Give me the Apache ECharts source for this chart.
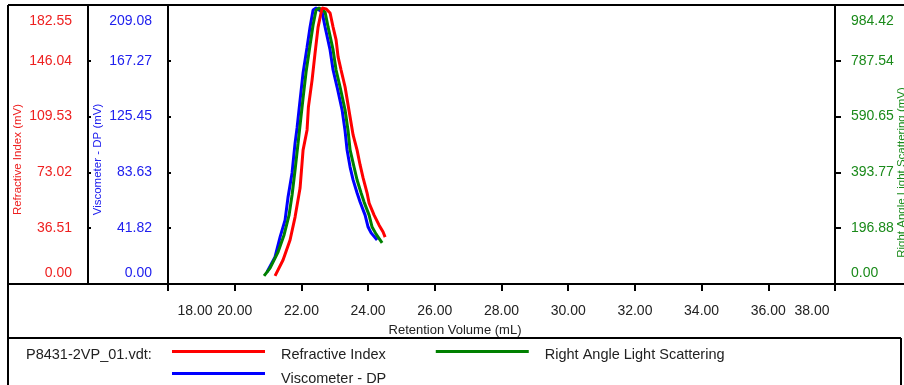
<!DOCTYPE html>
<html>
<head>
<meta charset="utf-8">
<script src="https://cdn.jsdelivr.net/npm/echarts@6/dist/echarts.min.js"></script>
<style>
html,body{margin:0;padding:0;background:#fff;}
#chart{width:904px;height:385px;}
</style>
</head>
<body>
<div id="chart"></div>
<script>
// ---- data (retention volume mL, detector response) ----
const refractiveIndex = [
  [21.21,5.3],[21.45,15.7],[21.66,28.8],[21.81,43.8],[21.96,62.8],[22.05,87.6],
  [22.17,100.8],[22.21,115.8],[22.32,133.4],[22.41,151.2],[22.50,168.1],[22.62,180.6],
  [22.74,180.0],[22.86,177.3],[22.95,168.1],[23.04,159.7],[23.10,148.6],[23.19,140.0],
  [23.31,128.9],[23.46,109.3],[23.55,97.5],[23.67,87.6],[23.76,77.9],[23.85,69.4],
  [23.97,59.5],[24.03,52.9],[24.18,45.1],[24.33,38.5],[24.45,34.0],[24.51,30.7]
];
const viscometerDP = [
  [20.97,9.0],[21.21,20.3],[21.36,35.1],[21.51,47.9],[21.60,65.2],[21.72,83.2],
  [21.81,105.6],[21.87,116.9],[21.96,137.8],[22.05,158.1],[22.17,177.5],[22.26,192.6],
  [22.35,205.3],[22.44,206.8],[22.62,203.9],[22.71,192.6],[22.86,175.4],[22.95,160.4],
  [23.07,147.6],[23.22,130.5],[23.31,114.6],[23.37,100.4],[23.46,87.6],[23.55,78.0],
  [23.67,68.2],[23.76,61.5],[23.91,51.6],[24.00,42.7],[24.09,38.3],[24.27,33.0]
];
const lightScattering = [
  [20.88,28.5],[21.06,56],[21.30,113],[21.48,173],[21.63,243],[21.72,314],
  [21.81,402],[21.90,497],[21.96,561],[22.05,656],[22.14,748],[22.26,843],
  [22.35,914],[22.44,967],[22.53,974],[22.71,960],[22.80,907],[22.95,826],
  [23.04,755],[23.16,695],[23.31,614],[23.40,540],[23.46,473],[23.58,412],
  [23.67,367],[23.79,321],[23.88,289],[24.03,243],[24.12,201],[24.24,176],[24.42,145]
];
const xRange = {min: 18, max: 38, step: 2};
const riRange = {max: 182.55, step: 36.51};
const dpRange = {max: 209.08, step: 41.816};
const lsRange = {max: 984.42, step: 196.884};
const riTickLabels = ['0.00', '36.51', '73.02', '109.53', '146.04', '182.55'];
const dpTickLabels = ['0.00', '41.82', '83.63', '125.45', '167.27', '209.08'];
const lsTickLabels = ['0.00', '196.88', '393.77', '590.65', '787.54', '984.42'];
const fileLabel = 'P8431-2VP_01.vdt:';

const RED = '#ff0000', BLUE = '#0000ff', GREEN = '#008000';
const RED_T = '#ee2020', BLUE_T = '#2020ee', GREEN_T = '#1a8a1a';
const FONT = 'Liberation Sans, Arial, sans-serif';

function yLabel(labels, color) {
  const last = labels.length - 1;
  return {
    color: color, fontSize: 14, fontFamily: FONT, margin: 16,
    formatter: function (v, idx) {
      const s = labels[idx] !== undefined ? labels[idx] : v.toFixed(2);
      if (idx === last) return '{t|' + s + '}';
      if (idx === 0) return '{b|' + s + '}';
      return s;
    },
    rich: {
      t: {color: color, fontSize: 14, fontFamily: FONT, padding: [32, 0, 0, 0]},
      b: {color: color, fontSize: 14, fontFamily: FONT, padding: [0, 0, 22, 0]}
    }
  };
}

function yAxis(opts) {
  return {
    type: 'value', position: opts.position, offset: opts.offset,
    min: 0, max: opts.range.max, interval: opts.range.step,
    name: opts.name, nameLocation: 'middle', nameGap: opts.gap, nameRotate: 90,
    nameMoveOverlap: false,
    nameTextStyle: {color: opts.tcolor, fontSize: 11.5, fontFamily: FONT, padding: opts.namePad},
    axisLine: {show: true, lineStyle: {color: '#000', width: 2}},
    axisTick: {show: true, inside: opts.tickInside, length: opts.tickLen, lineStyle: {color: '#000', width: 2}},
    axisLabel: yLabel(opts.labels, opts.tcolor),
    splitLine: {show: false}
  };
}

function legendText(padTop) {
  return {
    fontSize: 14.5, color: '#222', fontFamily: FONT, padding: [padTop, 0, 0, 11],
    rich: {a: {fontSize: 14.5, color: '#222', fontFamily: FONT}}
  };
}
const legendFormatter = function (name) { return '{a|' + name + '}'; };

const chart = echarts.init(document.getElementById('chart'), null, {renderer: 'canvas'});
chart.setOption({
  animation: false,
  backgroundColor: '#fff',
  grid: {left: 168, right: 69, top: 5, bottom: 101, containLabel: false, outerBoundsMode: 'none'},
  title: {text: fileLabel, left: 26, top: 347, padding: 0,
          textStyle: {fontSize: 14.5, fontWeight: 'normal', color: '#222', fontFamily: FONT}},
  legend: [
    {data: ['Refractive Index', 'Right Angle Light Scattering'], left: 172, top: 347, padding: 0, icon: 'rect',
     itemWidth: 93, itemHeight: 3, itemGap: 50, selectedMode: false,
     formatter: legendFormatter, textStyle: legendText(6)},
    {data: ['Viscometer - DP'], left: 172, top: 371, padding: 0, icon: 'rect',
     itemWidth: 93, itemHeight: 3, selectedMode: false,
     formatter: legendFormatter, textStyle: legendText(10)}
  ],
  xAxis: {
    type: 'value', min: xRange.min, max: xRange.max, interval: xRange.step,
    name: 'Retention Volume (mL)', nameLocation: 'middle', nameGap: 40,
    nameMoveOverlap: false,
    nameTextStyle: {color: '#222', fontSize: 13, fontFamily: FONT, padding: [0, 93, 0, 0]},
    axisLine: {show: true, lineStyle: {color: '#000', width: 2}},
    axisTick: {show: true, length: 7, lineStyle: {color: '#000', width: 2}},
    axisLabel: {
      color: '#222', fontSize: 14, fontFamily: FONT, margin: 20,
      formatter: function (v) {
        const s = v.toFixed(2);
        if (v === xRange.min) return '{l|' + s + '}';
        if (v === xRange.max) return '{r|' + s + '}';
        return s;
      },
      rich: {
        l: {color: '#222', fontSize: 14, fontFamily: FONT, padding: [0, 0, 0, 54]},
        r: {color: '#222', fontSize: 14, fontFamily: FONT, padding: [0, 46, 0, 0]}
      }
    },
    splitLine: {show: false}
  },
  yAxis: [
    yAxis({position: 'left', offset: 80, range: riRange, labels: riTickLabels, name: 'Refractive Index (mV)', gap: 64, tcolor: RED_T, namePad: [0, 30, 0, 0], tickInside: true, tickLen: 3}),
    yAxis({position: 'left', offset: 0, range: dpRange, labels: dpTickLabels, name: 'Viscometer - DP (mV)', gap: 64, tcolor: BLUE_T, namePad: [0, 30, 0, 0], tickInside: true, tickLen: 3}),
    yAxis({position: 'right', offset: 0, range: lsRange, labels: lsTickLabels, name: 'Right Angle Light Scattering (mV)', gap: 61, tcolor: GREEN_T, namePad: [0, 56, 0, 0], tickInside: false, tickLen: 6})
  ],
  series: [
    {name: 'Viscometer - DP', type: 'line', yAxisIndex: 1, data: viscometerDP, showSymbol: false,
     color: BLUE, lineStyle: {color: BLUE, width: 3}, itemStyle: {color: BLUE}},
    {name: 'Right Angle Light Scattering', type: 'line', yAxisIndex: 2, data: lightScattering, showSymbol: false,
     color: GREEN, lineStyle: {color: GREEN, width: 3}, itemStyle: {color: GREEN}},
    {name: 'Refractive Index', type: 'line', yAxisIndex: 0, data: refractiveIndex, showSymbol: false,
     color: RED, lineStyle: {color: RED, width: 3}, itemStyle: {color: RED}}
  ],
  graphic: [
    {type: 'line', shape: {x1: 8, y1: 5, x2: 904, y2: 5}, style: {stroke: '#000', lineWidth: 2}, silent: true},
    {type: 'line', shape: {x1: 8, y1: 5, x2: 8, y2: 385}, style: {stroke: '#000', lineWidth: 2}, silent: true},
    {type: 'line', shape: {x1: 8, y1: 284, x2: 904, y2: 284}, style: {stroke: '#000', lineWidth: 2}, silent: true},
    {type: 'line', shape: {x1: 8, y1: 338, x2: 901, y2: 338}, style: {stroke: '#000', lineWidth: 2}, silent: true},
    {type: 'line', shape: {x1: 901, y1: 338, x2: 901, y2: 385}, style: {stroke: '#000', lineWidth: 2}, silent: true}
  ]
});
</script>
</body>
</html>
